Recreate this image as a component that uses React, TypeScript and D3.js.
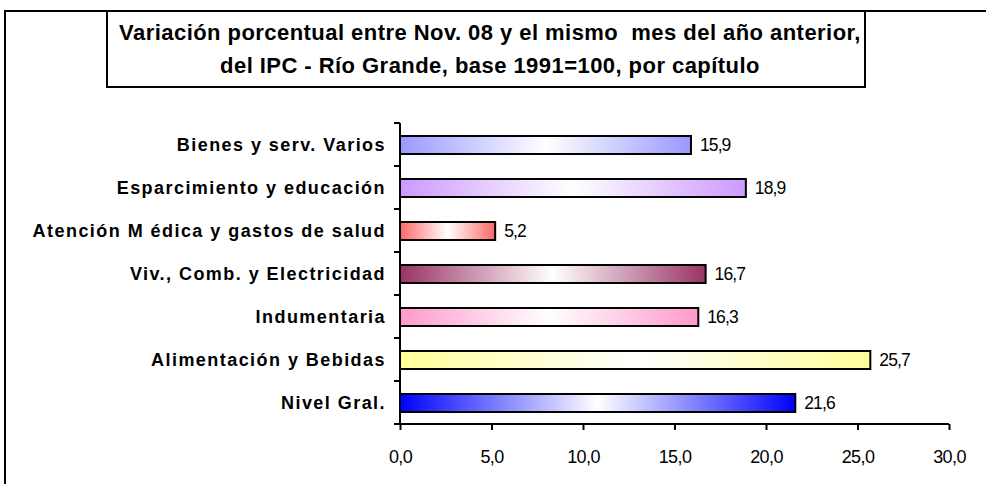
import React, { useEffect, useRef } from 'react';
import * as d3 from 'd3';

const categories = [
  'Bienes y serv. Varios',
  'Esparcimiento y educación',
  'Atención M édica y gastos de salud',
  'Viv., Comb. y Electricidad',
  'Indumentaria',
  'Alimentación y Bebidas',
  'Nivel Gral.',
];
const values = [15.9, 18.9, 5.2, 16.7, 16.3, 25.7, 21.6];
const barColors = ['#9999ff', '#cc99ff', '#ff6666', '#993366', '#ff99cc', '#ffff99', '#0000ff'];
const xTicks = [0, 5, 10, 15, 20, 25, 30];
const titleLines = [
  'Variación porcentual entre Nov. 08 y el mismo  mes del año anterior,',
  'del IPC - Río Grande, base 1991=100, por capítulo',
];

const W = 986;
const H = 484;
const FONT = '"Liberation Sans", Arial, sans-serif';

const App = () => {
  const svgRef = useRef<SVGSVGElement>(null);

  useEffect(() => {
    const svg = d3.select(svgRef.current);
    svg.selectAll('*').remove();

    // frames
    svg.append('rect')
      .attr('x', 5).attr('y', 11).attr('width', W + 10).attr('height', H + 10)
      .attr('fill', 'none').attr('stroke', '#000').attr('stroke-width', 2);

    svg.append('rect')
      .attr('x', 107).attr('y', 11).attr('width', 758).attr('height', 76)
      .attr('fill', '#fff').attr('stroke', '#000').attr('stroke-width', 2);

    svg.selectAll('.title')
      .data(titleLines)
      .enter()
      .append('text')
      .attr('x', 490)
      .attr('y', (d, i) => 40 + i * 33)
      .attr('text-anchor', 'middle')
      .attr('font-family', FONT)
      .attr('font-weight', 'bold')
      .attr('font-size', 22)
      .style('letter-spacing', '0.45px')
      .style('white-space', 'pre')
      .text(d => d);

    const x = d3.scaleLinear().domain([0, 30]).range([400, 949]);
    const y = d3.scaleBand<string>().domain(categories).range([123, 424]).padding(0);
    const barH = 18;

    // gradients: colour -> white -> colour
    const defs = svg.append('defs');
    barColors.forEach((c, i) => {
      const g = defs.append('linearGradient')
        .attr('id', 'grad' + i)
        .attr('x1', '0%').attr('x2', '100%').attr('y1', '0%').attr('y2', '0%');
      g.append('stop').attr('offset', '0%').attr('stop-color', c);
      g.append('stop').attr('offset', '50%').attr('stop-color', '#ffffff');
      g.append('stop').attr('offset', '100%').attr('stop-color', c);
    });

    // bars
    svg.selectAll('.bar')
      .data(categories)
      .enter()
      .append('rect')
      .attr('class', 'bar')
      .attr('x', x(0))
      .attr('y', d => (y(d) as number) + (y.step() - barH) / 2 + 0.5)
      .attr('width', (d, i) => x(values[i]) - x(0))
      .attr('height', barH)
      .attr('fill', (d, i) => `url(#grad${i})`)
      .attr('stroke', '#000')
      .attr('stroke-width', 2);

    // value labels
    svg.selectAll('.val')
      .data(categories)
      .enter()
      .append('text')
      .attr('x', (d, i) => x(values[i]) + 9)
      .attr('y', d => (y(d) as number) + y.step() / 2 + 6)
      .attr('font-family', FONT)
      .attr('font-size', 17.5)
      .style('letter-spacing', '-0.9px')
      .text((d, i) => values[i].toFixed(1).replace('.', ','));

    // category labels
    svg.selectAll('.cat')
      .data(categories)
      .enter()
      .append('text')
      .attr('x', 386)
      .attr('y', d => (y(d) as number) + y.step() / 2 + 6.5)
      .attr('text-anchor', 'end')
      .attr('font-family', FONT)
      .attr('font-weight', 'bold')
      .attr('font-size', 18)
      .style('letter-spacing', '1.45px')
      .text(d => d);

    // y axis with ticks at band boundaries
    const bounds = categories.map(c => y(c) as number).concat([424]);
    svg.append('line')
      .attr('x1', 400).attr('x2', 400).attr('y1', 123).attr('y2', 425)
      .attr('stroke', '#000').attr('stroke-width', 2);
    svg.selectAll('.ytick')
      .data(bounds)
      .enter()
      .append('line')
      .attr('x1', 394).attr('x2', 400)
      .attr('y1', d => d).attr('y2', d => d)
      .attr('stroke', '#000').attr('stroke-width', 2);

    // x axis
    const xAxis = svg.append('g')
      .attr('transform', 'translate(0,424)')
      .call(d3.axisBottom(x).tickValues(xTicks).tickSize(6).tickPadding(20)
        .tickFormat(d => (+d).toFixed(1).replace('.', ',')));
    xAxis.select('.domain').attr('stroke-width', 2).attr('d', `M${x(0)},0H${x(30)}`);
    xAxis.selectAll('.tick line').attr('stroke-width', 2);
    xAxis.selectAll('.tick text')
      .attr('font-family', FONT)
      .attr('font-size', 18)
      .attr('fill', '#000')
      .style('letter-spacing', '-0.6px');
  }, []);

  return (
    <svg
      ref={svgRef}
      width={W}
      height={H}
      style={{ position: 'absolute', left: 0, top: 0, background: '#fff' }}
    />
  );
};

export default App;
